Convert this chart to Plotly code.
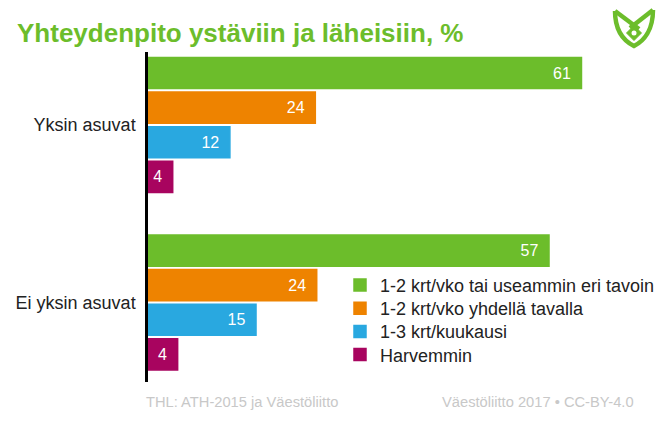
import plotly.graph_objects as go

# Data (percent)
groups = ["Yksin asuvat", "Ei yksin asuvat"]
series_names = [
    "1-2 krt/vko tai useammin eri tavoin",
    "1-2 krt/vko yhdellä tavalla",
    "1-3 krt/kuukausi",
    "Harvemmin",
]
often_many_ways = [61.4, 56.8]
often_one_way = [23.7, 23.9]
monthly = [11.6, 15.3]
rarely = [3.5, 4.2]
series_values = [often_many_ways, often_one_way, monthly, rarely]
colors = ["#6cbd2b", "#ee8300", "#29a8e0", "#a8045f"]

title_text = "Yhteydenpito ystäviin ja läheisiin, %"
source_text = "THL: ATH-2015 ja Väestöliitto"
credit_text = "Väestöliitto 2017 • CC-BY-4.0"

W, H = 662, 432
L, R, T, B = 148, 22, 52, 50
PW, PH = W - L - R, H - T - B
FONT = "Liberation Sans, Arial, sans-serif"


def px_x(px):
    return (px - L) / PW


def px_y(py):
    return (H - B - py) / PH


fig = go.Figure()
legend_rows = [285.3, 308.5, 331.7, 354.9]
for i, (name, vals, col) in enumerate(zip(series_names, series_values, colors)):
    lg = "legend" if i == 0 else f"legend{i + 1}"
    fig.add_trace(
        go.Bar(
            y=groups,
            x=vals,
            orientation="h",
            name=name,
            marker=dict(color=col, line=dict(color=col, width=1.5)),
            texttemplate="%{x:.0f}\u00a0\u2009",
            textposition="inside",
            insidetextanchor="end",
            textfont=dict(color="white", size=16, family=FONT),
            legend=lg,
            hoverinfo="skip",
        )
    )

legend_common = dict(
    xref="paper",
    yref="paper",
    xanchor="left",
    yanchor="middle",
    font=dict(size=18, color="#222", family=FONT),
    bgcolor="rgba(0,0,0,0)",
)
legends = {}
for i, row in enumerate(legend_rows):
    key = "legend" if i == 0 else f"legend{i + 1}"
    legends[key] = dict(legend_common, x=px_x(340), y=px_y(row))

# Logo drawn as simple strokes in the top right corner
green = colors[0]


def path(points, close=False):
    d = "M" + " L".join(f"{px_x(x):.4f},{px_y(y):.4f}" for x, y in points)
    return d + (" Z" if close else "")


logo_shapes = [
    dict(type="path", xref="paper", yref="paper",
         path=(f"M{px_x(615):.4f},{px_y(11):.4f} "
               f"C{px_x(615):.4f},{px_y(31):.4f} {px_x(624):.4f},{px_y(41):.4f} {px_x(634):.4f},{px_y(46):.4f} "
               f"C{px_x(644):.4f},{px_y(41):.4f} {px_x(653):.4f},{px_y(30):.4f} {px_x(653):.4f},{px_y(10):.4f}"),
         line=dict(color=green, width=4.5)),
    dict(type="path", xref="paper", yref="paper", path=path([(615, 11), (639, 29)]),
         line=dict(color=green, width=4.5)),
    dict(type="path", xref="paper", yref="paper", path=path([(653, 10), (630, 28)]),
         line=dict(color=green, width=4.5)),
    dict(type="path", xref="paper", yref="paper",
         path=path([(634, 25.5), (641.5, 33), (634, 40.5), (626.5, 33)], close=True),
         fillcolor=green, line=dict(color=green, width=1)),
    dict(type="circle", xref="paper", yref="paper",
         x0=px_x(631.5), x1=px_x(636.5), y0=px_y(30.5), y1=px_y(35.5),
         fillcolor="white", line=dict(width=0)),
]

fig.update_layout(
    width=W,
    height=H,
    margin=dict(l=L, r=R, t=T, b=B, autoexpand=False),
    paper_bgcolor="white",
    plot_bgcolor="white",
    barmode="group",
    bargap=0.22,
    bargroupgap=0.1,
    showlegend=True,
    title=dict(
        text=f"<b>{title_text}</b>",
        x=17 / W,
        xref="container",
        xanchor="left",
        y=1 - 33 / H,
        yref="container",
        yanchor="middle",
        font=dict(size=26, color=green, family=FONT),
    ),
    xaxis=dict(visible=False, range=[0, PW / 7.06], fixedrange=True),
    yaxis=dict(
        type="category",
        categoryarray=groups,
        range=[1.448, -0.411],
        showline=True,
        linecolor="black",
        linewidth=2.5,
        showgrid=False,
        ticks="",
        ticklabelstandoff=6,
        tickfont=dict(size=18, color="#222", family=FONT),
        fixedrange=True,
    ),
    annotations=[
        dict(text=source_text, xref="paper", yref="paper", x=px_x(144), y=px_y(402),
             xanchor="left", yanchor="middle", showarrow=False,
             font=dict(size=14.7, color="#c8c8c8", family=FONT)),
        dict(text=credit_text, xref="paper", yref="paper", x=px_x(636), y=px_y(402),
             xanchor="right", yanchor="middle", showarrow=False,
             font=dict(size=14.7, color="#c8c8c8", family=FONT)),
    ],
    shapes=logo_shapes,
    **legends,
)

fig.write_html(
    "out.html",
    config={"displayModeBar": False},
    post_script="document.body.style.margin='0px';",
)
